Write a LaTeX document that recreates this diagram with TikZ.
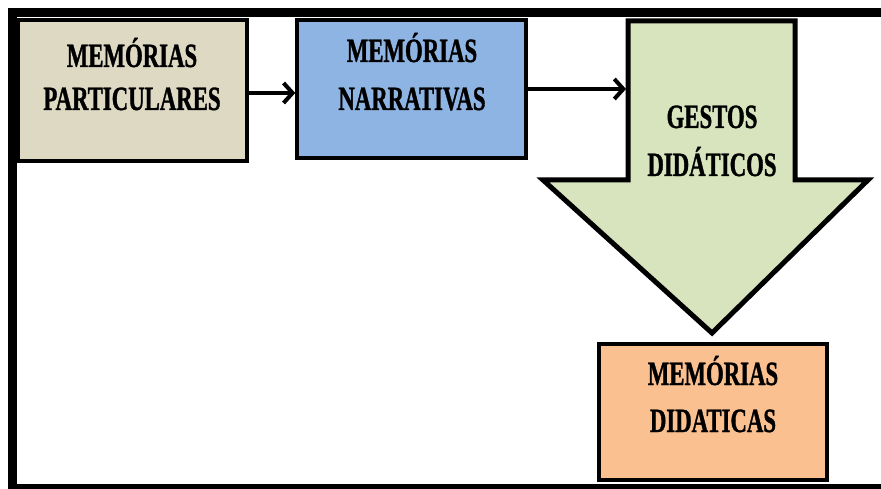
\documentclass[tikz,border=0pt]{standalone}
\usepackage{fontspec}
\setmainfont{Liberation Serif}[FakeStretch=0.67, BoldFeatures={FakeBold=1}]
\usetikzlibrary{arrows.meta}
\definecolor{tanfill}{HTML}{DDD9C3}
\definecolor{bluefill}{HTML}{8EB4E3}
\definecolor{greenfill}{HTML}{D7E4BD}
\definecolor{orangefill}{HTML}{FAC090}
\tikzset{
  box/.style={draw=black, line width=3.5pt, rectangle, inner sep=0pt},
  lbl/.style={anchor=base, inner sep=0pt, font=\fontsize{34}{40}\selectfont\bfseries},
  link/.style={draw=black, line width=4pt, -{Straight Barb[length=9pt,width=20pt,line width=4pt]}},
}
\begin{document}
\begin{tikzpicture}[x=1pt,y=-1pt]
  \useasboundingbox (0,0) rectangle (881,489);
  \clip (0,0) rectangle (881,489);

  % outer frame (right side runs off the page)
  \draw[line width=9pt] (12.5,495) -- (12.5,13) -- (900,13);
  \draw[line width=9pt] (12.5,488.5) -- (900,488.5);

  % boxes
  \node[box, fill=tanfill, minimum width=229pt, minimum height=141pt] (b1) at (132.5,90.5) {};
  \node[box, fill=bluefill, minimum width=229pt, minimum height=138pt] (b2) at (411.5,89) {};
  \node[box, fill=orangefill, minimum width=228pt, minimum height=136pt] (b4) at (713,412) {};

  % large downward arrow
  \draw[line width=5pt, line join=miter, fill=greenfill]
    (628,21) -- (795,21) -- (795,180) -- (868,180) -- (712,333)
    -- (543,180) -- (628,180) -- cycle;
  \coordinate (gin) at (626,89);

  % labels
  \node[lbl] (t1a) at (132,67) {MEMÓRIAS};
  \node[lbl] (t1b) at (132,110) {PARTICULARES};
  \node[lbl] (t2a) at (412,62) {MEMÓRIAS};
  \node[lbl] (t2b) at (412,110) {NARRATIVAS};
  \node[lbl] (t3a) at (712,128) {GESTOS};
  \node[lbl] (t3b) at (712,176) {DIDÁTICOS};
  \node[lbl] (t4a) at (713,385) {MEMÓRIAS};
  \node[lbl] (t4b) at (713,432) {DIDATICAS};

  % connectors
  \draw[link] ([yshift=-2.5pt]b1.east) -- ([yshift=-2.5pt]b1.east -| b2.west);
  \draw[link] (b2.east) -- (gin);
\end{tikzpicture}
\end{document}
